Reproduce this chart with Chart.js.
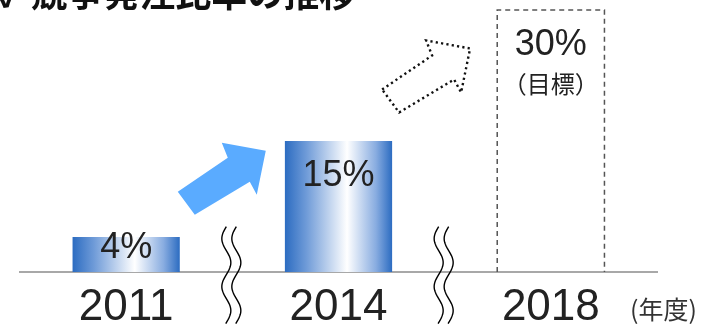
<!DOCTYPE html>
<html>
<head>
<meta charset="utf-8">
<script src="https://cdn.jsdelivr.net/npm/chart.js@4"></script>
<style>
  html, body { margin: 0; padding: 0; background: #fff; }
  canvas { display: block; }
</style>
</head>
<body>
<canvas id="chart" width="702" height="324"></canvas>
<script>
'use strict';

// data
const years = ['2011', '2014', '2018'];
const ratios = [4, 15, 30];
const valueLabels = ['4%', '15%', '30%'];
const targetNote = '（目標）';
const title = '✓ 競争発注比率の推移';
const unitLabel = '(年度)';

const barPct = 0.505;
const edgeBlue = '#2c6cc1';
const arrowBlue = '#5aabff';

// horizontal white-in-the-middle gradient for the solid bars
let barFill = (ctx) => {
	let chart = ctx.chart;
	let xs = chart.scales.x;
	if (ctx.dataIndex === 2) return 'rgba(0,0,0,0)';
	if (!xs) return edgeBlue;
	let cx = xs.getPixelForValue(ctx.dataIndex);
	let w = xs.width / years.length * barPct;
	if (!Number.isFinite(cx) || !Number.isFinite(w) || w <= 0) return edgeBlue;
	let g = chart.ctx.createLinearGradient(cx - w / 2, 0, cx + w / 2, 0);
	g.addColorStop(0, edgeBlue);
	g.addColorStop(0.2, '#6f9bd8');
	g.addColorStop(0.58, '#ffffff');
	g.addColorStop(0.85, '#88ace0');
	g.addColorStop(1, edgeBlue);
	return g;
};

// arrow outline, relative to its tail corner
const arrowShape = [[0, 0], [50, -34], [44, -49], [88, -41], [79, 3], [72, -10], [17, 23]];

let arrowPath = (c, ox, oy) => {
	c.beginPath();
	arrowShape.forEach(([dx, dy], i) => {
		if (i === 0) c.moveTo(ox + dx, oy + dy);
		else c.lineTo(ox + dx, oy + dy);
	});
	c.closePath();
};

let wavy = (c, x0, yTop, yBot) => {
	c.beginPath();
	for (let y = yTop; y <= yBot; y += 1) {
		let x = x0 + 4.5 * Math.sin((y - yTop) / 48 * Math.PI * 2 + Math.PI);
		if (y === yTop) c.moveTo(x, y);
		else c.lineTo(x, y);
	}
	c.stroke();
};

const decor = {
	id: 'decor',
	afterDatasetsDraw(chart) {
		let c = chart.ctx;
		let xs = chart.scales.x;
		let ys = chart.scales.y;
		let meta = chart.getDatasetMeta(0);
		c.save();

		// dashed target bar
		let tb = meta.data[2];
		let half = tb.width / 2;
		c.strokeStyle = '#555';
		c.lineWidth = 1.5;
		c.setLineDash([5, 4]);
		c.beginPath();
		c.moveTo(tb.x - half, tb.base);
		c.lineTo(tb.x - half, tb.y);
		c.lineTo(tb.x + half, tb.y);
		c.lineTo(tb.x + half, tb.base);
		c.stroke();
		c.setLineDash([]);

		// value labels
		c.fillStyle = '#222';
		c.textAlign = 'center';
		c.textBaseline = 'middle';
		c.font = '36px "Liberation Sans", Arial, sans-serif';
		c.fillText(valueLabels[0], meta.data[0].x, meta.data[0].y + 11);
		c.fillText(valueLabels[1], meta.data[1].x, meta.data[1].y + 35);
		c.fillText(valueLabels[2], meta.data[2].x, meta.data[2].y + 35);
		c.font = '24px "Noto Sans CJK JP", sans-serif';
		c.fillText(targetNote, meta.data[2].x, meta.data[2].y + 74);

		// axis breaks between categories
		c.strokeStyle = '#000';
		c.lineWidth = 1.4;
		[0.5, 1.5].forEach((v) => {
			let bx = xs.getPixelForDecimal((v + 0.5) / years.length);
			wavy(c, bx - 6, ys.getPixelForValue(5.2), 324);
			wavy(c, bx + 4, ys.getPixelForValue(5.2), 324);
		});

		// solid arrow 2011 -> 2014
		let a1x = meta.data[0].x + meta.data[0].width / 2 - 2;
		let a1y = ys.getPixelForValue(9.2);
		arrowPath(c, a1x, a1y);
		c.fillStyle = arrowBlue;
		c.fill();

		// dotted arrow 2014 -> 2018
		let a2x = meta.data[1].x + meta.data[1].width / 2 - 10;
		let a2y = ys.getPixelForValue(20.9);
		arrowPath(c, a2x, a2y);
		c.strokeStyle = '#111';
		c.lineWidth = 2.4;
		c.setLineDash([2.2, 3.2]);
		c.stroke();
		c.setLineDash([]);

		// title (cut off at the top of the picture)
		c.fillStyle = '#111';
		c.textAlign = 'left';
		c.textBaseline = 'alphabetic';
		c.font = 'bold 36px "Noto Sans CJK JP", sans-serif';
		c.fillText(title, -3, 7);

		// unit label
		c.fillStyle = '#333';
		c.font = '25px "Noto Sans CJK JP", sans-serif';
		c.textBaseline = 'middle';
		c.fillText(unitLabel, 630, 309);

		c.restore();
	}
};

new Chart(document.getElementById('chart'), {
	type: 'bar',
	data: {
		labels: years,
		datasets: [{
			data: ratios,
			backgroundColor: barFill,
			borderWidth: 0,
			categoryPercentage: 1,
			barPercentage: barPct
		}]
	},
	options: {
		responsive: false,
		animation: false,
		layout: { padding: { left: 20, right: 45, top: 10, bottom: 0 } },
		plugins: {
			legend: { display: false },
			tooltip: { enabled: false }
		},
		scales: {
			x: {
				grid: { display: false },
				border: { display: true, color: '#a8a8a8', width: 2 },
				afterFit: (scale) => { scale.height = 52; },
				ticks: {
					color: '#222',
					padding: 10,
					font: { family: '"Liberation Sans", Arial, sans-serif', size: 44, lineHeight: 0.8 }
				}
			},
			y: {
				display: false,
				min: 0,
				max: 30
			}
		}
	},
	plugins: [decor]
});
</script>
</body>
</html>
